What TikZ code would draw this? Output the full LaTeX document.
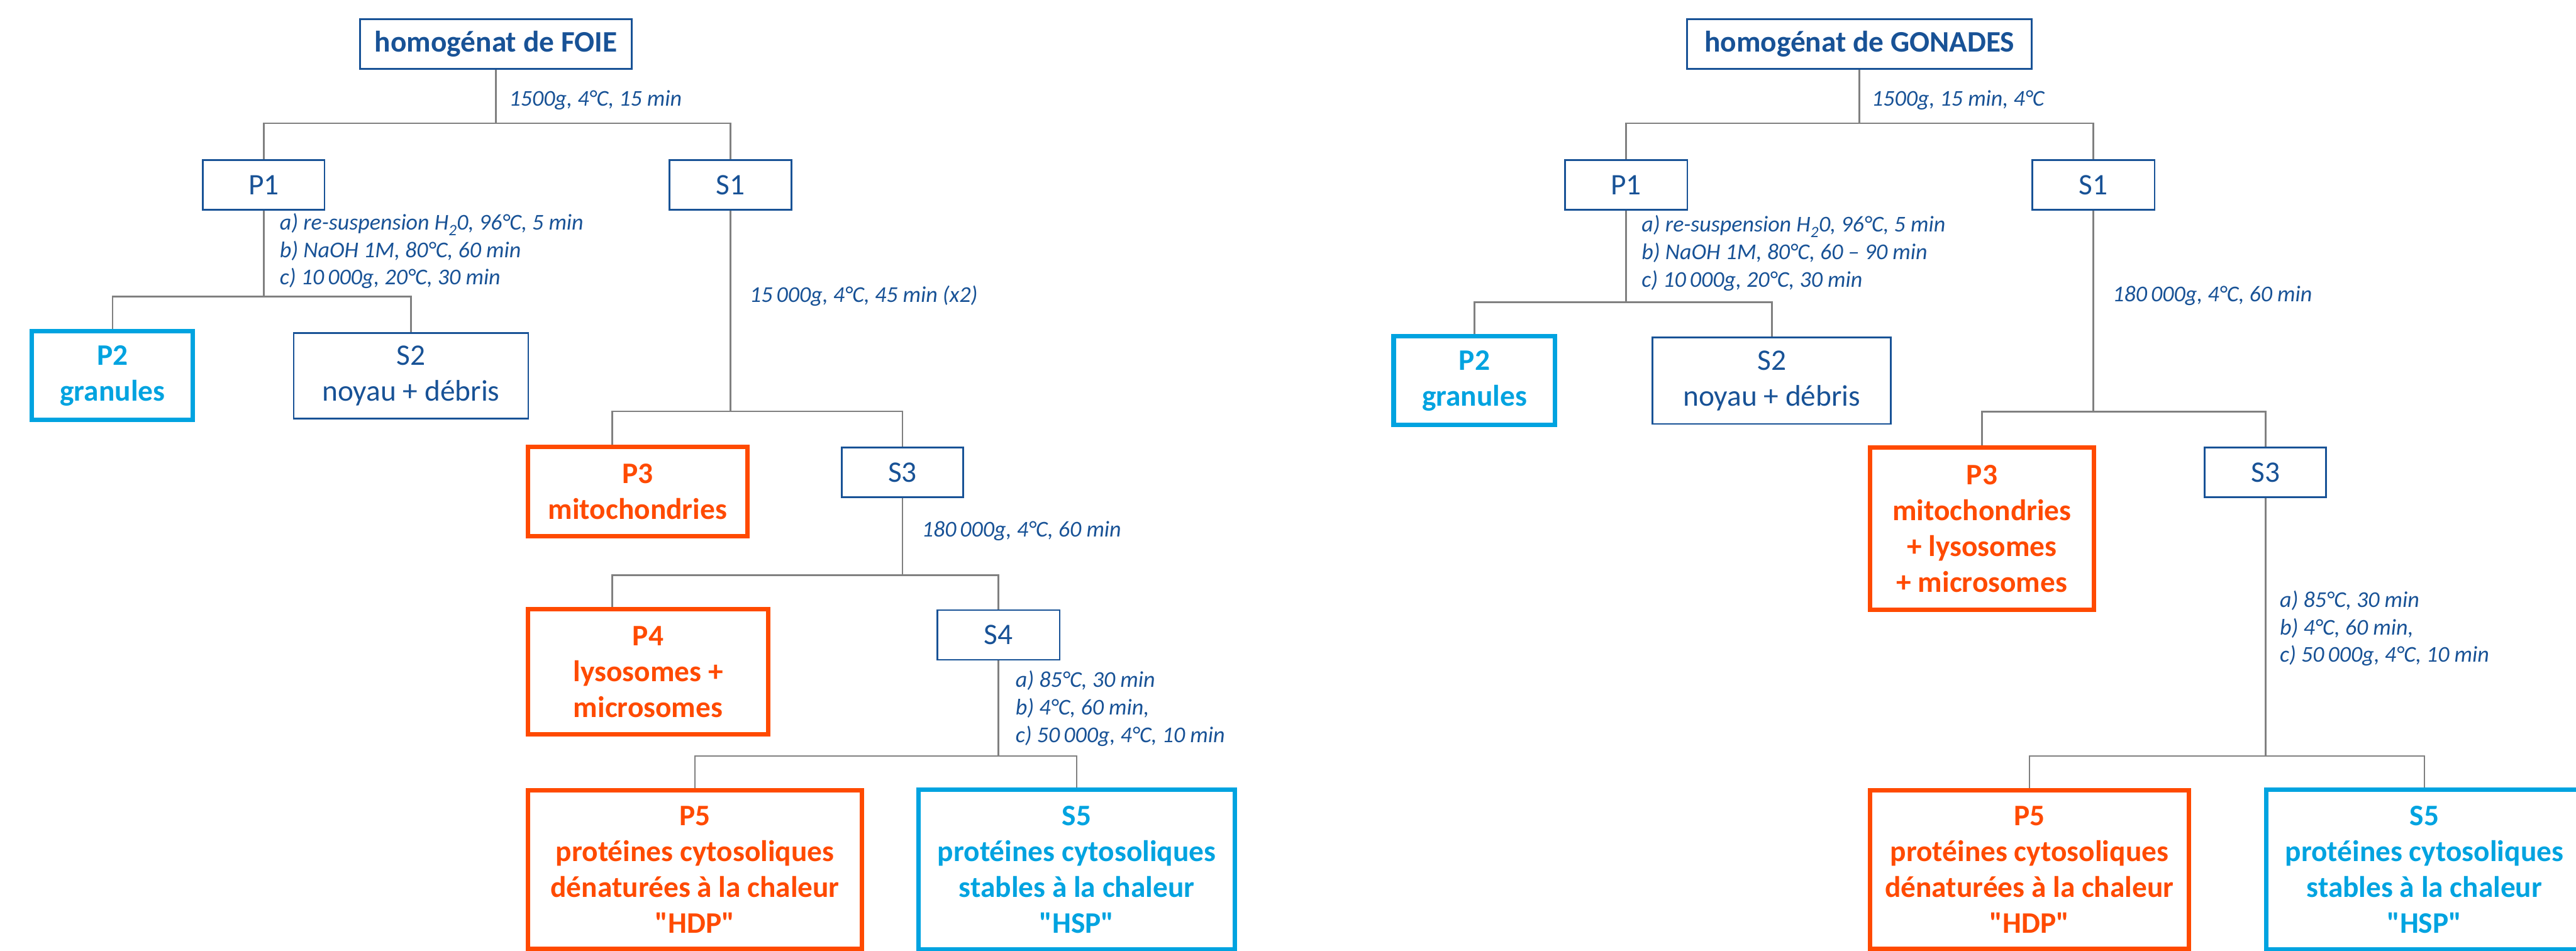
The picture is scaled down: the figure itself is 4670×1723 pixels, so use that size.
\documentclass[tikz,border=0pt]{standalone}
\usepackage{fontspec}
\setmainfont{Carlito}
\definecolor{dblue}{RGB}{24,82,150}
\definecolor{orng}{RGB}{255,74,0}
\definecolor{cyn}{RGB}{0,163,224}
\definecolor{lgrey}{RGB}{128,128,128}
\newcommand{\qq}[1]{\textquotedbl#1\textquotedbl}
\begin{document}
\begin{tikzpicture}[x=1pt,y=-1pt,
  box/.style={draw=dblue, line width=3pt, inner sep=0pt, align=center, text=dblue,
    font=\fontsize{54}{65}\selectfont},
  bbox/.style={box, font=\bfseries\fontsize{54}{65}\selectfont},
  hot/.style={box, draw=orng, line width=8pt, text=orng, font=\bfseries\fontsize{54}{65}\selectfont},
  cool/.style={box, draw=cyn, line width=8pt, text=cyn, font=\bfseries\fontsize{54}{65}\selectfont},
  conn/.style={draw=lgrey, line width=3pt},
  lab/.style={text=dblue, font=\itshape\fontsize{41}{50}\selectfont, anchor=west, align=left, inner sep=0pt}
]
\useasboundingbox (0,0) rectangle (4670,1723);
\clip (0,0) rectangle (4670,1723);

% ---------------- left tree (FOIE) ----------------
\node[bbox, minimum width=492pt, minimum height=90pt] (T1) at (899,80) {homogénat de FOIE};
\node[box, minimum width=221pt, minimum height=90pt] (P1a) at (478,335) {P1};
\node[box, minimum width=221pt, minimum height=90pt] (S1a) at (1324,335) {S1};
\node[cool, minimum width=292pt, minimum height=161pt] (P2a) at (204,681) {P2\\granules};
\node[box, minimum width=425pt, minimum height=155pt] (S2a) at (745,681) {S2\\noyau + débris};
\node[hot, minimum width=398pt, minimum height=161pt] (P3a) at (1156,891) {P3\\mitochondries};
\node[box, minimum width=220pt, minimum height=90pt] (S3a) at (1636,856) {S3};
\node[hot, minimum width=436pt, minimum height=227pt] (P4a) at (1175,1218) {P4\\lysosomes +\\microsomes};
\node[box, minimum width=222pt, minimum height=90pt] (S4a) at (1810,1151) {S4};
\node[hot, minimum width=606pt, minimum height=287pt] (P5a) at (1260,1576) {P5\\protéines cytosoliques\\dénaturées à la chaleur\\\qq{HDP}};
\node[cool, minimum width=574pt, minimum height=289pt] (S5a) at (1952,1576) {S5\\protéines cytosoliques\\stables à la chaleur\\\qq{HSP}};

\draw[conn] (T1.south) -- ++(0,97) coordinate (jA);
\draw[conn] (P1a.north) |- (jA) -| (S1a.north);
\draw[conn] (P1a.south) -- ++(0,156) coordinate (jB);
\draw[conn] (P2a.north) |- (jB) -| (S2a.north);
\draw[conn] (S1a.south) -- ++(0,364) coordinate (jC);
\draw[conn] ([xshift=157pt]P3a.north west) |- (jC) -| (S3a.north);
\draw[conn] (S3a.south) -- ++(0,140) coordinate (jD);
\draw[conn] ([xshift=157pt]P4a.north west) |- (jD) -| (S4a.north);
\draw[conn] (S4a.south) -- ++(0,173) coordinate (jE);
\draw[conn] (P5a.north) |- (jE) -| (S5a.north);

\node[lab] (L1) at (923,182) {1500g, 4°C, 15 min};
\node[lab] (L2) at (507,455) {a) re-suspension H\textsubscript{2}0, 96°C, 5 min\\b) NaOH 1M, 80°C, 60 min\\c) 10\,000g, 20°C, 30 min};
\node[lab] (L3) at (1359,536) {15\,000g, 4°C, 45 min (x2)};
\node[lab] (L4) at (1671,962) {180\,000g, 4°C, 60 min};
\node[lab] (L5) at (1841,1284) {a) 85°C, 30 min\\b) 4°C, 60 min,\\c) 50\,000g, 4°C, 10 min};

% ---------------- right tree (GONADES) ----------------
\node[bbox, minimum width=625pt, minimum height=90pt] (T2) at (3371,80) {homogénat de GONADES};
\node[box, minimum width=222pt, minimum height=90pt] (P1b) at (2948,335) {P1};
\node[box, minimum width=222pt, minimum height=90pt] (S1b) at (3795,335) {S1};
\node[cool, minimum width=293pt, minimum height=161pt] (P2b) at (2673,690) {P2\\granules};
\node[box, minimum width=432pt, minimum height=157pt] (S2b) at (3212,690) {S2\\noyau + débris};
\node[hot, minimum width=406pt, minimum height=294pt] (P3b) at (3593,958) {P3\\mitochondries\\+ lysosomes\\+ microsomes};
\node[box, minimum width=220pt, minimum height=90pt] (S3b) at (4107,856) {S3};
\node[hot, minimum width=578pt, minimum height=287pt] (P5b) at (3679,1576) {P5\\protéines cytosoliques\\dénaturées à la chaleur\\\qq{HDP}};
\node[cool, minimum width=574pt, minimum height=289pt] (S5b) at (4395,1576) {S5\\protéines cytosoliques\\stables à la chaleur\\\qq{HSP}};

\draw[conn] (T2.south) -- ++(0,97) coordinate (jF);
\draw[conn] (P1b.north) |- (jF) -| (S1b.north);
\draw[conn] (P1b.south) -- ++(0,166) coordinate (jG);
\draw[conn] (P2b.north) |- (jG) -| (S2b.north);
\draw[conn] (S1b.south) -- ++(0,365) coordinate (jH);
\draw[conn] (P3b.north) |- (jH) -| (S3b.north);
\draw[conn] (S3b.south) -- ++(0,468) coordinate (jI);
\draw[conn] (P5b.north) |- (jI) -| (S5b.north);

\node[lab] (L6) at (3393,182) {1500g, 15 min, 4°C};
\node[lab] (L7) at (2976,459) {a) re-suspension H\textsubscript{2}0, 96°C, 5 min\\b) NaOH 1M, 80°C, 60 – 90 min\\c) 10\,000g, 20°C, 30 min};
\node[lab] (L8) at (3830,536) {180\,000g, 4°C, 60 min};
\node[lab] (L9) at (4133,1139) {a) 85°C, 30 min\\b) 4°C, 60 min,\\c) 50\,000g, 4°C, 10 min};
\end{tikzpicture}
\end{document}
